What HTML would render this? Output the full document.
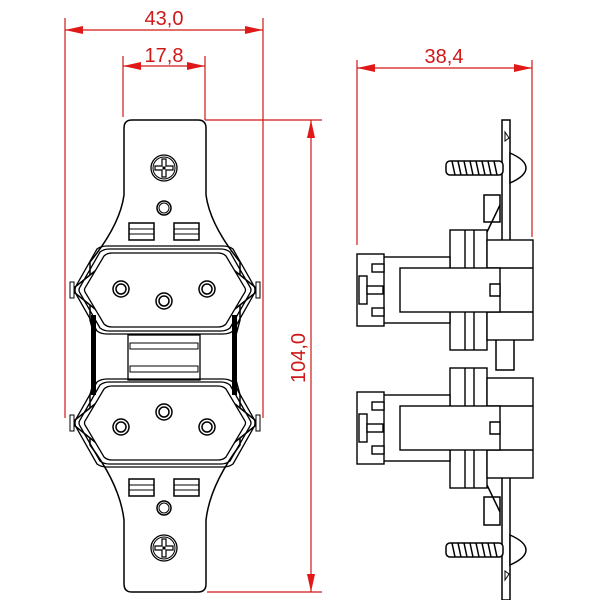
<!DOCTYPE html>
<html><head><style>body{margin:0;background:#fff}svg{display:block}</style></head><body>
<svg width="600" height="600" viewBox="0 0 600 600" xmlns="http://www.w3.org/2000/svg" font-family="Liberation Sans, sans-serif">
<defs>
<g id="sock">
 <path d="M118,-48 L-118,-48 Q-128,-48 -135,-42 L-180,-6 Q-186,0 -180,6 L-135,42 Q-128,48 -118,48 L118,48 Q128,48 135,42 L180,6 Q186,0 180,-6 L135,-42 Q128,-48 118,-48Z" transform="scale(0.5)" fill="#fff" stroke="#000" stroke-width="3"/>
 <path d="M-58,-44 L58,-44 Q64,-44 68,-41 L89,-4 Q91,0 89,4 L68,41 Q64,44 58,44 L-58,44 Q-64,44 -68,41 L-89,4 Q-91,0 -89,-4 L-68,-41 Q-64,-44 -58,-44Z" fill="none" stroke="#000" stroke-width="1.3"/>
 <path d="M-56,-41 L56,-41 Q61,-41 65,-38 L85,-3 Q87,0 85,3 L65,38 Q61,41 56,41 L-56,41 Q-61,41 -65,38 L-85,3 Q-87,0 -85,-3 L-65,-38 Q-61,-41 -56,-41Z" fill="none" stroke="#000" stroke-width="1.3"/>
 <path d="M-53,-37 L53,-37 Q58,-37 61,-34 L80,-2 Q81,0 80,2 L61,34 Q58,37 53,37 L-53,37 Q-58,37 -61,34 L-80,2 Q-81,0 -80,-2 L-61,-34 Q-58,-37 -53,-37Z" fill="#fff" stroke="#000" stroke-width="1.3"/>
 <rect x="-95" y="-8" width="4" height="16" fill="#fff" stroke="#000"/>
 <rect x="91" y="-8" width="4" height="16" fill="#fff" stroke="#000"/>
</g>
<g id="hole"><circle r="8" fill="#fff" stroke="#000" stroke-width="1.5"/><circle r="5" fill="none" stroke="#000" stroke-width="1.5"/></g>
<g id="scr"><circle r="13" fill="#fff" stroke="#000" stroke-width="1.3"/><circle r="11" fill="none" stroke="#000"/><path d="M-2,-9 h4 v7 h7 v4 h-7 v7 h-4 v-7 h-7 v-4 h7z" fill="#fff" stroke="#000" stroke-width="1.2"/><rect x="-1.5" y="-1.5" width="3" height="3"/></g>
<g id="tab"><rect x="-36" y="-9" width="25" height="17" fill="#fff" stroke="#000" stroke-width="1.5"/><line x1="-36" y1="-3" x2="-11" y2="-3" stroke="#000"/><line x1="-36" y1="2" x2="-11" y2="2" stroke="#000"/><rect x="9" y="-9" width="25" height="17" fill="#fff" stroke="#000" stroke-width="1.5"/><line x1="9" y1="-3" x2="34" y2="-3" stroke="#000"/><line x1="9" y1="2" x2="34" y2="2" stroke="#000"/></g>
<g id="conn" fill="#fff" stroke="#000" stroke-width="1.4">
 <rect x="450" y="-60" width="37" height="120"/>
 <line x1="465" y1="-60" x2="465" y2="60"/><line x1="474" y1="-60" x2="474" y2="60"/>
 <rect x="487" y="-50" width="46" height="100"/>
 <line x1="487" y1="-22" x2="533" y2="-22"/><line x1="487" y1="22" x2="533" y2="22"/>
 <rect x="380" y="-33" width="70" height="66"/>
 <rect x="400" y="-22" width="100" height="44"/>
 <path d="M490,-6 h10 v12 h-10z"/>
 <rect x="357" y="-36" width="27" height="72"/>
 <rect x="359" y="-14" width="8" height="28"/><rect x="367" y="-4" width="16" height="8"/>
 <rect x="372" y="-26" width="12" height="8"/><rect x="372" y="18" width="12" height="8"/>
</g>
<g id="rscrew" fill="#fff" stroke="#000" stroke-width="1.5">
 <rect x="446" y="-7" width="57" height="14" rx="4"/>
 <path d="M452,-7 l3,14 M458,-7 l3,14 M464,-7 l3,14 M470,-7 l3,14 M476,-7 l3,14 M482,-7 l3,14 M488,-7 l3,14 M494,-7 l3,14" fill="none"/>
 <path d="M510,-15 Q526,-8 526,0 Q526,8 510,15Z"/>
</g>
</defs>

<path d="M132,120 H198 Q206,120 206,128 V195 Q210,225 240,262 L240,320 L236,335 L236,380 L240,395 L240,445 Q210,485 206,520 V584 Q206,592 198,592 H132 Q124,592 124,584 V520 Q120,485 90,445 L90,395 L94,380 L94,335 L90,320 L90,262 Q120,225 124,195 V128 Q124,120 132,120Z" fill="#fff" stroke="#000" stroke-width="1.5"/>
<rect x="91" y="315" width="5" height="80" fill="#000"/>
<rect x="232" y="315" width="5" height="80" fill="#000"/>
<rect x="128" y="335" width="72" height="45" fill="#fff" stroke="#000" stroke-width="1.3"/>
<rect x="130" y="343" width="68" height="6" fill="#fff" stroke="#000"/>
<rect x="130" y="366" width="68" height="6" fill="#fff" stroke="#000"/>
<use href="#tab" x="165" y="232"/>
<use href="#tab" x="165" y="488"/>
<use href="#sock" x="165" y="290"/>
<use href="#sock" x="165" y="423"/>
<use href="#hole" x="121" y="289"/><use href="#hole" x="164" y="301"/><use href="#hole" x="207" y="289"/>
<use href="#hole" x="121" y="427"/><use href="#hole" x="164" y="412"/><use href="#hole" x="207" y="427"/>
<use href="#scr" x="164" y="168"/><use href="#scr" x="164" y="548"/>
<circle cx="164" cy="208" r="7" fill="#fff" stroke="#000" stroke-width="1.5"/><circle cx="164" cy="208" r="5" fill="none" stroke="#000"/>
<circle cx="164" cy="508" r="7" fill="#fff" stroke="#000" stroke-width="1.5"/><circle cx="164" cy="508" r="5" fill="none" stroke="#000"/>

<g fill="#fff" stroke="#000" stroke-width="1.5">
<rect x="502" y="120" width="8" height="150"/>
<rect x="502" y="462" width="8" height="138"/>
<rect x="496" y="310" width="18" height="60"/>
<path d="M484,195 h16 v27 h-16z"/><path d="M484,497 h16 v28 h-16z"/>
<line x1="487" y1="232" x2="500" y2="205"/><line x1="487" y1="485" x2="500" y2="512"/>
</g>
<use href="#conn" y="290"/>
<use href="#conn" y="428"/>
<use href="#rscrew" y="168"/>
<use href="#rscrew" y="550"/>
<path d="M505,132 l4,6 l-4,3z M505,580 l4,-6 l-4,-3z" fill="none" stroke="#000"/>

<g stroke="#d01818" stroke-width="1.2" fill="none">
<line x1="65" y1="18" x2="65" y2="418"/><line x1="263" y1="18" x2="263" y2="418"/>
<line x1="65" y1="30" x2="263" y2="30"/>
<line x1="123" y1="56" x2="123" y2="117"/><line x1="205" y1="56" x2="205" y2="120"/>
<line x1="123" y1="66" x2="205" y2="66"/>
<line x1="205" y1="120" x2="322" y2="120"/><line x1="207" y1="592" x2="322" y2="592"/>
<line x1="311" y1="120" x2="311" y2="592"/>
<line x1="357" y1="60" x2="357" y2="245"/><line x1="532" y1="60" x2="532" y2="237"/>
<line x1="357" y1="68" x2="532" y2="68"/>
</g>
<g fill="#e01818">
<path d="M65,30 l18,-4 v8z"/><path d="M263,30 l-18,-4 v8z"/>
<path d="M123,66 l18,-4 v8z"/><path d="M205,66 l-18,-4 v8z"/>
<path d="M311,120 l-4,18 h8z"/><path d="M311,592 l-4,-18 h8z"/>
<path d="M357,68 l18,-4 v8z"/><path d="M532,68 l-18,-4 v8z"/>
</g>
<g fill="#d01818" font-size="20">
<text x="164" y="25" text-anchor="middle">43,0</text>
<text x="164" y="62" text-anchor="middle">17,8</text>
<text x="444" y="63" text-anchor="middle">38,4</text>
<text transform="translate(305,358) rotate(-90)" text-anchor="middle">104,0</text>
</g>
</svg>
</body></html>
